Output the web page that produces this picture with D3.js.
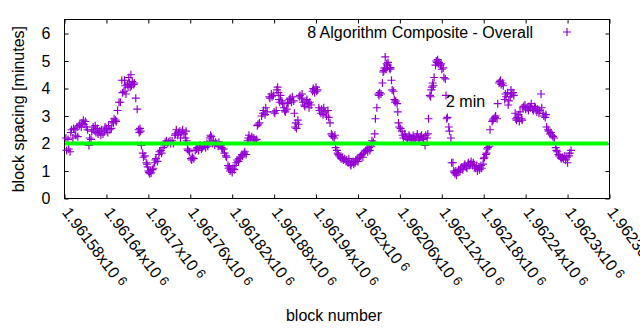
<!DOCTYPE html>
<html>
<head>
<meta charset="utf-8">
<script src="https://cdn.jsdelivr.net/npm/d3@7"></script>
<style>
  body { margin: 0; background: #fff; }
  text { font-family: "Liberation Sans", Arial, sans-serif; font-size: 16px; fill: #000; }
</style>
</head>
<body>
<svg id="chart"></svg>
<script>
// chart data
var blockBase = 1961580;
// [block - blockBase, spacing in minutes]
var spacingSamples = [
  [2,2.2],[3,1.75],[5,2.15],[6,1.8],[8,1.7],[9,2.4],[10,2.5],[12,2.2],[13,2.55],[15,2.5],[16,2.3],[18,2.6],
  [19,2.25],[21,2.65],[22,2.7],[24,2.6],[25,2.75],[27,2.85],[28,2.7],[30,2.8],[31,2.6],[33,2.5],[35,1.93],
  [36,2.2],[38,2.15],[39,2.45],[41,2.6],[42,2.5],[44,2.65],[45,2.4],[47,2.55],[48,2.35],[50,2.45],[52,2.3],
  [53,2.5],[55,2.35],[57,2.45],[58,2.6],[60,2.55],[62,2.4],[63,2.65],[65,2.5],[67,2.55],[68,2.8],[70,2.75],
  [71,2.9],[73,2.85],[74,2.8],[76,3.2],[78,3.5],
  [80,3.5],[82,4.3],[83,3.85],[85,3.9],[86,4.3],[87,4.1],[88,3.8],[90,4.15],[91,4.05],[92,4.4],[93,4.2],
  [94,4.05],[95,4.5],[96,4.1],[97,4.25],[99,4.15],[100,4.2],[102,3.65],[104,3.25],[106,2.5],[107,2.4],
  [108,2.55],[109,2.45],[110,1.93],[112,1.65],[113,1.5],[115,1.55],
  [117,1.3],[118,1.25],[119,1.15],[120,1.0],[121,0.95],[122,0.9],[123,1.0],[124,0.93],[126,1.05],[127,1.1],
  [129,1.3],[130,1.4],[131,1.45],[133,1.35],[135,1.6],[136,1.7],[138,1.75],[139,1.65],[141,1.85],[143,1.95],
  [144,2.05],[146,2.1],[147,2.0],[149,2.05],[151,2.1],[152,2.0],[154,2.1],[156,2.0],[158,2.3],[159,2.35],
  [160,2.5],[162,2.3],[163,2.4],[165,2.45],[166,2.2],[168,2.4],[169,2.5],[171,2.35],[173,2.2],[174,2.45],
  [175,2.1],[176,1.8],[177,1.75],[179,1.7],[181,1.45],[182,1.4],[183,1.5],[185,1.45],[187,1.75],[189,1.8],
  [190,1.85],[192,1.75],[193,1.9],[194,1.95],
  [196,1.8],[197,1.85],[199,1.9],[200,1.95],[202,1.85],[204,2.0],[205,1.9],[207,2.05],[208,2.2],[209,2.3],
  [210,2.25],[212,2.0],[213,2.1],[215,1.95],[216,2.05],[218,2.0],[220,1.9],[221,2.05],[223,1.95],[225,1.85],
  [226,1.8],[228,1.8],[229,1.65],[231,1.55],[232,1.5],[234,1.2],[235,1.1],[236,1.15],[237,1.0],[238,1.05],
  [240,0.95],[241,1.1],[243,1.05],[244,1.2],[246,1.3],[247,1.4],[249,1.35],[250,1.45],[252,1.5],[254,1.6],
  [255,1.55],[257,1.65],[258,1.7],[260,1.6],[262,2.1],[263,2.2],[264,2.3],[266,2.15],[268,2.25],[270,2.15],
  [271,2.2],[273,2.1],[275,2.15],[276,2.65],[277,2.7],[279,2.75],
  [282,3.0],[284,3.1],[285,3.2],[287,3.05],[288,3.3],[290,3.15],[293,3.7],[294,3.65],[296,3.8],[297,3.7],
  [299,3.75],[300,3.15],[301,3.1],[303,3.2],[304,3.95],[305,4.05],[306,3.85],[307,3.6],[308,3.5],[309,3.75],
  [311,3.55],[312,3.45],[314,3.3],[315,3.2],[316,3.15],[318,3.25],[319,3.5],[320,3.45],[322,3.6],[323,3.65],
  [325,3.5],[326,3.7],[328,3.55],[329,3.1],[330,2.6],[331,2.75],[332,2.55],[334,2.85],[335,2.7],[336,3.7],
  [337,3.75],[339,3.65],[340,3.8],[341,3.5],[343,3.4],[344,3.35],[346,3.55],[347,3.6],[349,3.45],[350,3.3],
  [351,3.5],[353,3.4],[355,3.9],[356,4.0],[357,3.95],[358,3.85],[360,4.05],[361,3.9],[362,3.95],[364,3.3],
  [365,3.2],[367,3.1],[368,3.25],[370,3.05],[371,3.3],[373,3.15],[375,3.0],[377,3.2],[378,2.95],[380,2.75],
  [382,2.35],[383,2.3],[384,2.25],[386,2.2],[387,2.3],[388,1.85],[390,1.75],[391,1.65],[392,1.6],[393,1.55],
  [395,1.5],[396,1.45],[398,1.5],[399,1.4],[401,1.45],
  [403,1.35],[404,1.4],[406,1.3],[407,1.45],[409,1.25],[410,1.2],[411,1.3],[413,1.35],[414,1.25],[416,1.3],
  [417,1.4],[419,1.45],[420,1.35],[422,1.5],[424,1.55],[425,1.6],[427,1.5],[428,1.65],[430,1.7],[431,1.75],
  [433,1.8],[434,1.7],[436,1.85],[437,1.75],[439,1.9],[440,2.1],[442,2.05],[444,2.35],[445,2.9],[447,3.3],
  [449,3.8],[450,3.75],[451,3.85],[453,3.8],[455,4.2],[456,4.6],[457,4.65],[458,4.75],[459,5.15],[460,4.7],
  [461,4.9],[462,4.85],[463,4.95],[465,4.75],[466,4.7],[467,4.75],[468,4.3],[469,3.95],[471,3.9],[472,3.6],
  [473,3.5],[474,3.55],[476,3.45],[477,3.15],[478,2.75],[479,2.6],[481,2.55],
  [483,2.45],[484,2.3],[485,2.2],[487,2.35],[488,2.25],[490,2.2],[491,2.15],[493,2.3],[494,2.25],[496,2.2],
  [497,2.1],[499,2.3],[500,2.2],[502,2.15],[504,2.25],[505,2.35],[507,2.2],[508,2.1],[510,2.25],[511,2.3],
  [513,2.15],[514,2.2],[516,1.93],[517,2.3],[519,2.2],[520,2.35],[521,2.9],
  [523,3.75],[524,3.7],[525,3.95],[526,4.05],[527,4.2],[528,4.1],[529,4.4],[531,4.85],[532,5.0],[533,4.95],
  [534,5.05],[535,4.9],[536,4.95],[538,4.85],[539,4.9],[540,4.7],[542,4.75],[543,4.4],[545,4.35],[546,3.75],
  [547,2.9],[548,2.95],[550,2.6],[551,2.45],[553,2.2],[554,1.3],
  [556,1.3],[557,1.0],[558,0.95],[559,0.9],[560,1.0],[561,0.85],[563,0.95],[564,1.05],[566,1.0],[567,1.1],
  [569,1.15],[570,1.05],[572,1.2],[573,1.25],[575,1.15],[576,1.1],[578,1.3],[579,1.2],[581,1.25],[582,1.35],
  [584,1.2],[585,1.3],[587,1.15],[588,1.1],[590,1.2],[591,1.0],[593,1.15],[594,1.05],[596,1.2],[597,1.1],
  [599,1.25],[600,1.45],[601,1.5],[603,1.6],[604,1.65],[605,1.8],[606,1.85],[608,1.9],[609,2.5],
  [612,2.8],[613,2.85],[614,2.9],[616,2.95],[617,3.0],[619,2.9],[620,3.45],[622,4.2],[623,4.25],[624,4.3],
  [625,4.15],[627,4.2],[628,4.1],[630,3.6],[631,3.8],[632,3.7],[634,3.85],[635,3.4],[636,3.55],[638,3.7],
  [639,3.95],[640,3.8],[642,3.85],[643,3.75],[645,3.1],[646,2.9],[647,2.85],[648,2.95],[650,3.05],[651,2.8],
  [652,3.15],[654,2.9],[655,2.85],[656,3.3],[657,3.35],[659,3.4],[660,3.25],[662,3.3],
  [664,3.2],[665,3.35],[667,3.3],[668,3.45],[670,3.25],[671,3.2],[673,3.35],[674,3.3],[676,3.15],[677,3.25],
  [679,3.1],[680,3.2],[682,3.8],[683,3.3],[685,3.1],[686,3.0],[688,2.95],[689,3.05],[690,2.6],[692,2.5],
  [693,2.45],[695,2.35],[696,2.4],[698,2.3],[699,2.25],[701,2.2],[703,1.85],[704,1.75],[705,1.7],[707,1.6],
  [708,1.55],[710,1.5],[711,1.45],[713,1.5],[714,1.45],[716,1.55],[717,1.4],[719,1.5],[720,1.3],[722,1.55],
  [723,1.65],[725,1.75]
];
var targetSpacing = 2;
var xDomain = [1961580, 1962360],
  xTickStep = 60,
  yDomain = [0, 6.5],
  yTicks = [0, 1, 2, 3, 4, 5, 6];
var seriesName = '8 Algorithm Composite - Overall',
  targetLabel = '2 min',
  xTitle = 'block number',
  yTitle = 'block spacing [minutes]';

// layout
var width = 640,
  height = 330,
  plotLeft = 64.5,
  plotRight = 609.5,
  plotTop = 19.75,
  plotBottom = 198.5,
  tickLen = 4,
  labelAngle = 53,
  purple = '#9400d3';

var svg = d3.select('#chart')
  .attr('width', width)
  .attr('height', height);

svg.append('rect')
  .attr('width', width)
  .attr('height', height)
  .attr('fill', '#fff');

var x = d3.scaleLinear().domain(xDomain).range([plotLeft, plotRight]);
var y = d3.scaleLinear().domain(yDomain).range([plotBottom, plotTop]);

var xTicks = d3.range(xDomain[0], xDomain[1] + 1, xTickStep);

// ticks on all four sides, pointing in
function tickAxis(axis, tx, ty) {
  var g = svg.append('g')
    .attr('transform', 'translate(' + tx + ',' + ty + ')')
    .call(axis);
  g.select('.domain').remove();
  g.selectAll('line').attr('stroke', '#000');
  return g;
}

tickAxis(d3.axisBottom(x).tickValues(xTicks).tickSize(-tickLen).tickFormat(''), 0, plotBottom);
tickAxis(d3.axisTop(x).tickValues(xTicks).tickSize(-tickLen).tickFormat(''), 0, plotTop - 0.25);
tickAxis(d3.axisRight(y).tickValues(yTicks).tickSize(-tickLen).tickFormat(''), plotRight, 0);
var yAxis = tickAxis(d3.axisLeft(y).tickValues(yTicks).tickSize(-tickLen).tickPadding(14).tickFormat(d3.format('d')), plotLeft, 0);
yAxis.selectAll('text')
  .attr('fill', '#000')
  .style('font-family', '"Liberation Sans", Arial, sans-serif')
  .style('font-size', '16px');

// rotated x tick labels like 1.96158x10^6
var xLabels = svg.append('g');
xTicks.forEach(function(t) {
  var mant = (+(t / 1e6).toFixed(5)).toString();
  var lab = xLabels.append('text')
    .attr('transform', 'translate(' + (x(t) - 3) + ',' + (plotBottom + 14) + ') rotate(' + labelAngle + ')')
    .attr('text-anchor', 'start');
  lab.append('tspan').text(mant + 'x10');
  lab.append('tspan')
    .attr('dx', 4)
    .attr('dy', -3)
    .style('font-size', '13px')
    .text('6');
});

// frame
svg.append('rect')
  .attr('x', plotLeft)
  .attr('y', plotTop - 0.25)
  .attr('width', plotRight - plotLeft)
  .attr('height', plotBottom - plotTop + 0.25)
  .attr('fill', 'none')
  .attr('stroke', '#000')
  .attr('stroke-width', 1);

// points
var plus = 'M-4,0H4M0,-4V4';
svg.append('g').selectAll('path')
  .data(spacingSamples)
  .enter().append('path')
    .attr('d', plus)
    .attr('transform', function(d) {
      return 'translate(' + x(blockBase + d[0]) + ',' + y(d[1]) + ')';
    })
    .attr('fill', 'none')
    .attr('stroke', purple)
    .attr('stroke-width', 1.2);

// 2 minute target line
svg.append('line')
  .attr('x1', plotLeft + 1)
  .attr('x2', plotRight - 1.5)
  .attr('y1', y(targetSpacing))
  .attr('y2', y(targetSpacing))
  .attr('stroke', '#00ff00')
  .attr('stroke-width', 4);

svg.append('text')
  .attr('x', 446)
  .attr('y', 107)
  .text(targetLabel);

// key
svg.append('text')
  .attr('x', 533)
  .attr('y', 38)
  .attr('text-anchor', 'end')
  .text(seriesName);
svg.append('path')
  .attr('d', plus)
  .attr('transform', 'translate(567,32)')
  .attr('fill', 'none')
  .attr('stroke', purple)
  .attr('stroke-width', 1.2);

// axis titles
svg.append('text')
  .attr('x', 334)
  .attr('y', 321)
  .attr('text-anchor', 'middle')
  .text(xTitle);

svg.append('text')
  .attr('transform', 'translate(24,' + ((plotTop + plotBottom) / 2) + ') rotate(-90)')
  .attr('text-anchor', 'middle')
  .text(yTitle);
</script>
</body>
</html>
